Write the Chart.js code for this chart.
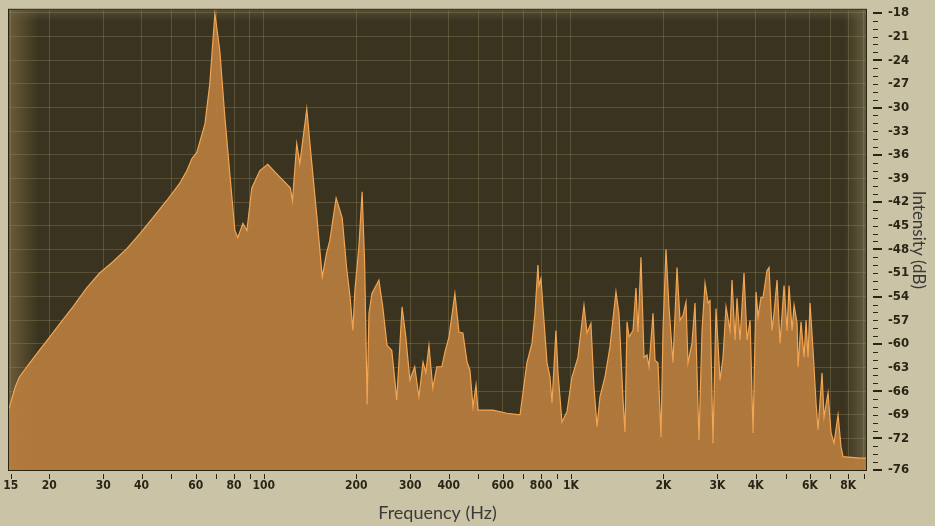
<!DOCTYPE html>
<html lang="en">
<head>
<meta charset="UTF-8" />
<title>Frequency spectrum</title>
<style>
  body {
    margin: 0;
    background-color: #cac3a5;
  }

  canvas {
    display: block;
  }
</style>
</head>
<body>
<canvas id="spectrum" width="935" height="526"></canvas>

<script src="https://cdn.jsdelivr.net/npm/chart.js@4"></script>
<script>
  // spectrum
  const freqHz = [
    14.8, 15.5, 16.0, 17.3, 18.6, 20.1, 21.7, 23.9, 26.5, 29.2,
    32.2, 35.8, 39.5, 43.5, 48.3, 53.3, 56.2, 58.3, 60.5, 64.3,
    66.7, 69.3, 71.9, 74.7, 77.5, 80.5, 82.3, 85.5, 88.1, 91.4,
    97.1, 103, 110, 122, 124, 128, 131, 138, 143, 149,
    155, 160, 164, 172, 180, 186, 191, 195, 198, 204,
    209, 213, 217, 220, 225, 237, 244, 252, 261, 265,
    271, 282, 290, 299, 310, 320, 330, 337, 345, 355,
    366, 380, 389, 401, 419, 432, 445, 459, 469, 480,
    491, 498, 557, 619, 683, 698, 719, 747, 764, 781,
    787, 799, 811, 836, 855, 868, 894, 908, 935, 971,
    1008, 1054, 1103, 1128, 1162, 1189, 1216, 1244, 1291, 1340,
    1402, 1434, 1478, 1500, 1523, 1546, 1593, 1629, 1654, 1691,
    1730, 1769, 1796, 1851, 1879, 1921, 1965, 1995, 2040, 2086,
    2150, 2216, 2266, 2317, 2370, 2406, 2479, 2536, 2613, 2673,
    2734, 2796, 2838, 2902, 2968, 3059, 3129, 3200, 3298, 3347,
    3424, 3475, 3554, 3662, 3746, 3832, 3918, 4007, 4068, 4160,
    4223, 4351, 4418, 4518, 4586, 4691, 4798, 4944, 5057, 5133,
    5250, 5330, 5451, 5491, 5616, 5744, 5831, 5919, 6008, 6145,
    6284, 6380, 6574, 6673, 6876, 7033, 7193, 7412, 7581, 7695,
    8743, 9140
  ];

  const levelDb = [
    -68.2, -65.5, -64.2, -62.4, -60.8, -59.1, -57.4, -55.3, -52.9, -51.0,
    -49.6, -47.9, -46.0, -44.0, -41.8, -39.6, -38.0, -36.5, -35.7, -32.1,
    -27.0, -18.1, -22.8, -31.3, -38.4, -45.6, -46.5, -44.7, -45.6, -40.2,
    -38.0, -37.2, -38.4, -40.2, -41.8, -34.6, -37.1, -30.2, -36.7, -44.0,
    -51.5, -48.5, -46.9, -41.5, -44.0, -50.3, -54.1, -58.3, -53.2, -47.7,
    -40.7, -49.8, -67.7, -56.1, -53.6, -51.9, -55.3, -60.2, -60.8, -63.3,
    -67.1, -55.3, -59.1, -64.6, -62.9, -66.7, -62.3, -63.6, -60.2, -65.6,
    -62.9, -62.9, -61.0, -59.1, -53.6, -58.5, -58.6, -62.3, -63.3, -68.0,
    -65.2, -68.4, -68.4, -68.8, -69.0, -66.2, -62.4, -59.9, -56.1, -50.0,
    -52.6, -51.7, -55.3, -62.4, -64.2, -67.5, -58.3, -63.7, -69.9, -68.6,
    -64.2, -61.7, -55.1, -58.6, -57.4, -65.5, -70.5, -66.7, -64.2, -60.4,
    -53.4, -56.1, -67.1, -71.2, -57.2, -59.1, -58.3, -52.9, -58.5, -49.0,
    -61.7, -61.4, -62.9, -56.1, -62.1, -62.4, -71.8, -58.3, -48.0, -55.3,
    -62.4, -50.3, -57.0, -56.4, -54.7, -62.4, -59.9, -54.8, -72.2, -58.3,
    -52.3, -54.8, -54.5, -72.6, -55.5, -64.6, -61.7, -55.3, -58.3, -51.9,
    -59.5, -54.2, -59.5, -51.0, -59.5, -57.0, -71.3, -53.4, -56.6, -54.1,
    -54.1, -50.7, -50.3, -58.3, -56.1, -51.9, -59.9, -52.6, -58.3, -52.6,
    -58.3, -55.1, -57.4, -62.9, -57.2, -61.7, -57.0, -61.7, -54.8, -60.8,
    -67.5, -70.9, -63.7, -69.3, -66.2, -71.3, -72.6, -69.0, -73.1, -74.3,
    -74.5, -74.5
  ];

  const xTickValues = [15, 20, 30, 40, 50, 60, 70, 80, 90, 100, 200, 300, 400, 500, 600, 700, 800, 900,
    1000, 2000, 3000, 4000, 5000, 6000, 7000, 8000, 9000];
  const xTickLabels = ['15', '20', '30', '40', '', '60', '', '80', '', '100', '200', '300', '400', '', '600', '', '800', '',
    '1K', '2K', '3K', '4K', '', '6K', '', '8K', ''];
  const yTickValues = [-18, -21, -24, -27, -30, -33, -36, -39, -42, -45, -48, -51, -54, -57, -60, -63, -66, -69, -72, -76];

  const tickFont = '"Liberation Sans Narrow", "DejaVu Sans Condensed", sans-serif';
  const inkColor = '#2b2518';
  const gridColor = 'rgba(150, 140, 100, 0.35)';

  // dark display panel with a soft glow at its edges
  const panel = {
    id: 'panel',
    beforeDraw(chart) {
      const { ctx, chartArea: a } = chart;
      ctx.save();
      ctx.fillStyle = '#39331f';
      ctx.fillRect(a.left, a.top, a.width, a.height);

      let g = ctx.createLinearGradient(a.left, 0, a.left + 30, 0);
      g.addColorStop(0, 'rgba(125, 105, 65, 0.75)');
      g.addColorStop(1, 'rgba(125, 105, 65, 0)');
      ctx.fillStyle = g;
      ctx.fillRect(a.left, a.top, 30, a.height);

      g = ctx.createLinearGradient(a.right - 22, 0, a.right, 0);
      g.addColorStop(0, 'rgba(130, 120, 85, 0)');
      g.addColorStop(1, 'rgba(130, 120, 85, 0.6)');
      ctx.fillStyle = g;
      ctx.fillRect(a.right - 22, a.top, 22, a.height);

      g = ctx.createLinearGradient(0, a.top, 0, a.top + 12);
      g.addColorStop(0, 'rgba(110, 100, 70, 0.5)');
      g.addColorStop(1, 'rgba(110, 100, 70, 0)');
      ctx.fillStyle = g;
      ctx.fillRect(a.left, a.top, a.width, 12);
      ctx.restore();
    },
    afterDraw(chart) {
      const { ctx, chartArea: a, scales } = chart;
      ctx.save();
      ctx.strokeStyle = '#2a2414';
      ctx.lineWidth = 1;
      ctx.strokeRect(a.left - 0.5, a.top - 0.5, a.width + 1, a.height + 1);

      // tick marks sit a little away from the panel
      ctx.fillStyle = inkColor;
      xTickValues.forEach(v => {
        const x = Math.round(scales.x.getPixelForValue(v));
        ctx.fillRect(x, a.bottom + 4, 1, 5);
      });
      for (let v = -76; v <= -18; v++) {
        const y = Math.round(scales.y.getPixelForValue(v));
        const major = v === -76 || (v + 18) % 6 === 0;
        if (major) ctx.fillRect(a.right + 7, y - 1, 9, 2);
        else ctx.fillRect(a.right + 7, y, 5, 1);
      }
      ctx.restore();
    }
  };

  const ctx = document.getElementById('spectrum').getContext('2d');

  new Chart(ctx, {
    type: 'line',
    data: {
      datasets: [{
        data: freqHz.map((f, i) => ({ x: f, y: levelDb[i] })),
        fill: 'start',
        backgroundColor: 'rgba(184, 125, 62, 0.92)',
        borderColor: '#f2a552',
        borderWidth: 1.2,
        pointRadius: 0,
        tension: 0
      }]
    },
    options: {
      responsive: false,
      animation: false,
      layout: {
        padding: { top: 8, left: 9, right: 0, bottom: 0 }
      },
      plugins: {
        legend: { display: false },
        tooltip: { enabled: false }
      },
      scales: {
        x: {
          type: 'logarithmic',
          position: 'bottom',
          min: 14.8,
          max: 9140,
          bounds: 'data',
          afterBuildTicks: s => { s.ticks = xTickValues.map(v => ({ value: v })); },
          afterFit: s => { s.height = 56; },
          // invisible tick marks only push the labels down; the real marks come from the plugin
          grid: { color: gridColor, drawTicks: true, tickLength: 9, tickColor: 'transparent' },
          border: { display: false },
          ticks: {
            autoSkip: false,
            maxRotation: 0,
            padding: 0,
            color: inkColor,
            font: { family: tickFont, size: 12, weight: 'bold' },
            callback: (v, i) => xTickLabels[i]
          },
          title: {
            display: true,
            text: 'Frequency (Hz)',
            color: '#3a3a38',
            font: { family: 'Lato', size: 18 },
            padding: { top: 0, bottom: 2 }
          }
        },
        y: {
          type: 'linear',
          position: 'right',
          min: -76,
          max: -17.6,
          afterBuildTicks: s => { s.ticks = yTickValues.map(v => ({ value: v })); },
          afterFit: s => { s.width = 69; },
          grid: {
            color: c => (c.tick && c.tick.value === -76 ? 'transparent' : gridColor),
            drawTicks: true,
            tickLength: 20,
            tickColor: 'transparent'
          },
          border: { display: false },
          ticks: {
            padding: 2,
            color: inkColor,
            font: { family: tickFont, size: 13, weight: 'bold' },
            callback: v => String(v)
          },
          title: {
            display: true,
            text: 'Intensity (dB)',
            color: '#3a3a38',
            font: { family: 'Lato', size: 17 },
            padding: { top: 6 }
          }
        }
      }
    },
    plugins: [panel]
  });
</script>
</body>
</html>
